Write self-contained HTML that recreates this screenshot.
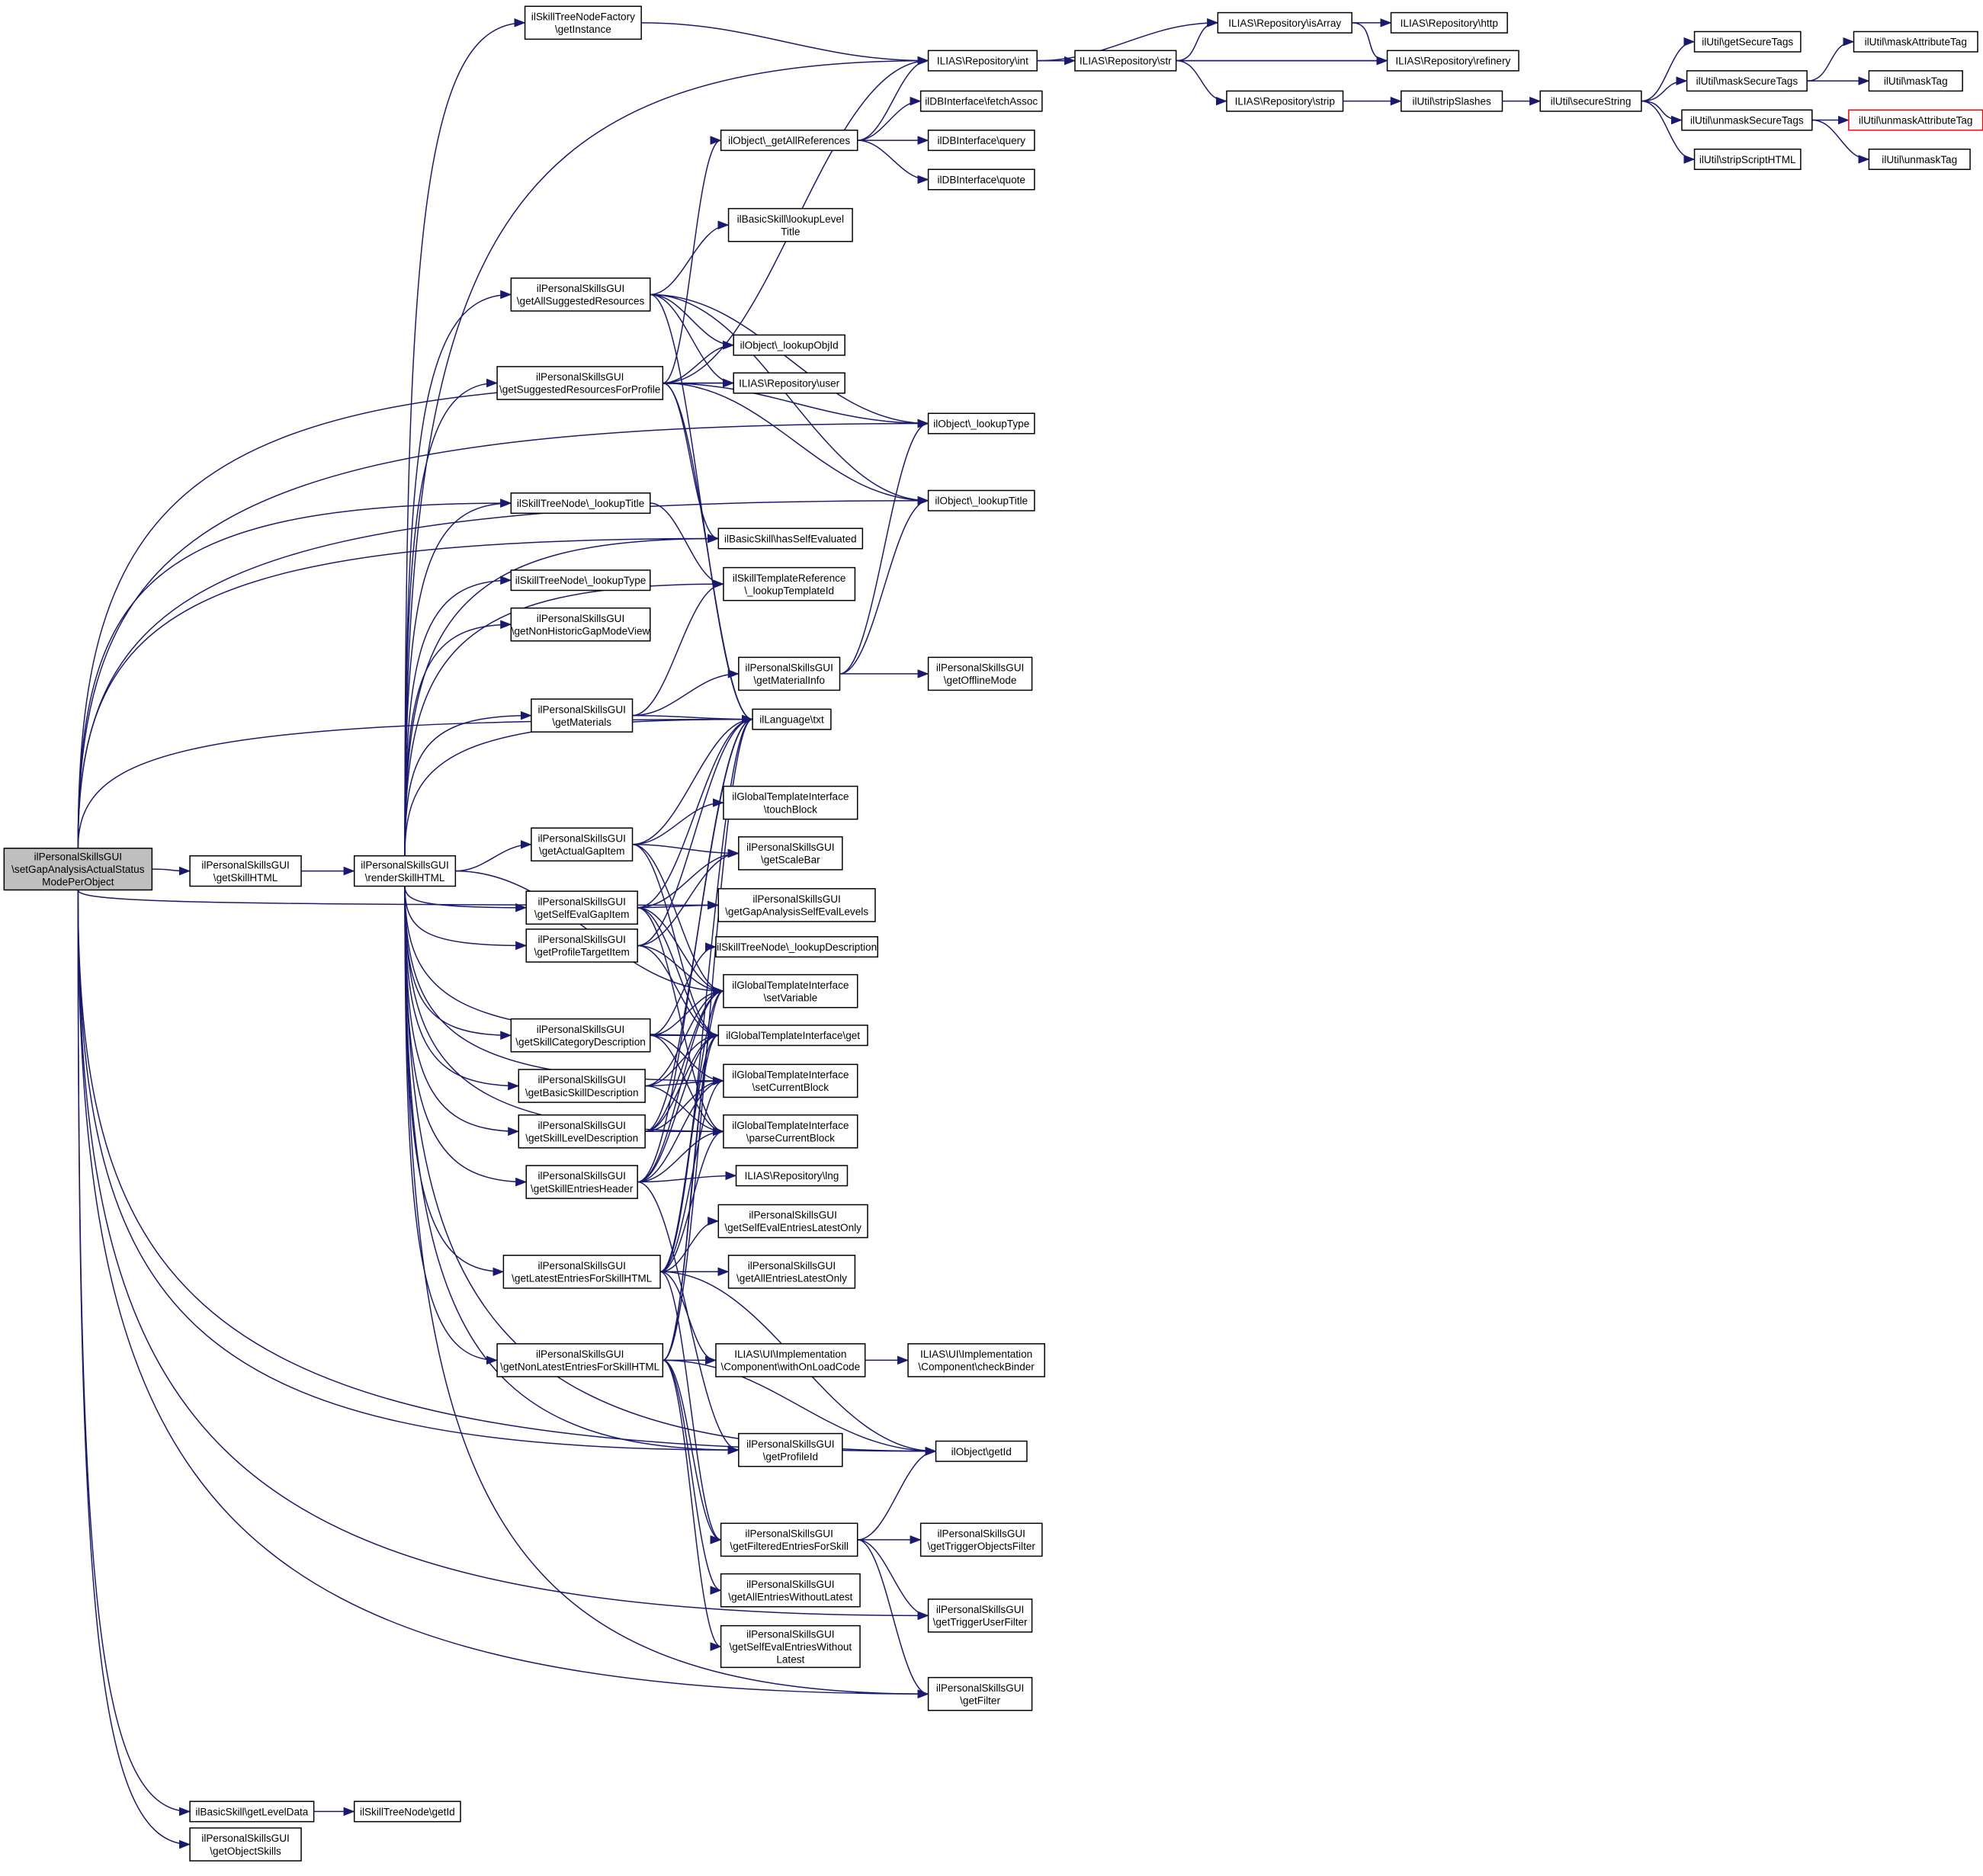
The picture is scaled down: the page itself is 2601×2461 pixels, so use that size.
<!DOCTYPE html>
<html><head><meta charset="utf-8">
<style>
html,body{margin:0;padding:0;background:#fff;}
svg{display:block;}
text{font-family:"Liberation Sans",Arial,sans-serif;font-size:8.2px;fill:#000;}
.n{fill:#fff;stroke:#000;stroke-width:0.9;}
.e{fill:none;stroke:#191970;stroke-width:0.9;}
</style></head><body>
<svg id="s" width="2601" height="2461" viewBox="0 0 1568 1484" xmlns="http://www.w3.org/2000/svg">
<defs><marker id="a" markerWidth="9" markerHeight="7" refX="8.5" refY="3.5" orient="auto" markerUnits="userSpaceOnUse"><path d="M0,0 L9,3.5 L0,7 z" fill="#191970"/></marker></defs>
<g id="edges"></g>
<g id="nodes"></g>
</svg>
<script>
var N={
main:[3,671,117,33,["ilPersonalSkillsGUI","\\setGapAnalysisActualStatus","ModePerObject"]],
gsh:[150,677,88,24,["ilPersonalSkillsGUI","\\getSkillHTML"]],
lvl:[150,1425,98,16,["ilBasicSkill\\getLevelData"]],
obs:[150,1446,88,26,["ilPersonalSkillsGUI","\\getObjectSkills"]],
rsh:[280,677,80,24,["ilPersonalSkillsGUI","\\renderSkillHTML"]],
tid:[280,1425,84,16,["ilSkillTreeNode\\getId"]],
gin:[415,5,92,26,["ilSkillTreeNodeFactory","\\getInstance"]],
asr:[404,220,110,26,["ilPersonalSkillsGUI","\\getAllSuggestedResources"]],
srp:[393,290,131,26,["ilPersonalSkillsGUI","\\getSuggestedResourcesForProfile"]],
tlt:[404,390,110,16,["ilSkillTreeNode\\_lookupTitle"]],
tly:[404,451,110,16,["ilSkillTreeNode\\_lookupType"]],
nhg:[404,481,110,26,["ilPersonalSkillsGUI","\\getNonHistoricGapModeView"]],
mat:[420,553,80,26,["ilPersonalSkillsGUI","\\getMaterials"]],
agi:[420,655,80,26,["ilPersonalSkillsGUI","\\getActualGapItem"]],
sgi:[416,705,88,26,["ilPersonalSkillsGUI","\\getSelfEvalGapItem"]],
pti:[416,735,88,26,["ilPersonalSkillsGUI","\\getProfileTargetItem"]],
scd:[404,806,110,26,["ilPersonalSkillsGUI","\\getSkillCategoryDescription"]],
bsd:[410,846,100,26,["ilPersonalSkillsGUI","\\getBasicSkillDescription"]],
sld:[410,882,100,26,["ilPersonalSkillsGUI","\\getSkillLevelDescription"]],
seh:[416,922,88,26,["ilPersonalSkillsGUI","\\getSkillEntriesHeader"]],
lat:[398,993,124,26,["ilPersonalSkillsGUI","\\getLatestEntriesForSkillHTML"]],
nla:[393,1063,131,26,["ilPersonalSkillsGUI","\\getNonLatestEntriesForSkillHTML"]],
gar:[570,103,108,16,["ilObject\\_getAllReferences"]],
llt:[576,165,98,26,["ilBasicSkill\\lookupLevel","Title"]],
loi:[580,265,88,16,["ilObject\\_lookupObjId"]],
usr:[580,295,88,16,["ILIAS\\Repository\\user"]],
hse:[568,418,114,16,["ilBasicSkill\\hasSelfEvaluated"]],
lti:[572,449,104,26,["ilSkillTemplateReference","\\_lookupTemplateId"]],
gmi:[584,520,80,26,["ilPersonalSkillsGUI","\\getMaterialInfo"]],
txt:[595,561,62,16,["ilLanguage\\txt"]],
tb:[572,622,106,26,["ilGlobalTemplateInterface","\\touchBlock"]],
gsb:[584,662,82,26,["ilPersonalSkillsGUI","\\getScaleBar"]],
gse:[568,703,124,26,["ilPersonalSkillsGUI","\\getGapAnalysisSelfEvalLevels"]],
ld:[566,741,128,16,["ilSkillTreeNode\\_lookupDescription"]],
sv:[572,771,106,26,["ilGlobalTemplateInterface","\\setVariable"]],
get:[568,811,118,16,["ilGlobalTemplateInterface\\get"]],
scb:[572,842,106,26,["ilGlobalTemplateInterface","\\setCurrentBlock"]],
pcb:[572,882,106,26,["ilGlobalTemplateInterface","\\parseCurrentBlock"]],
lng:[582,922,88,16,["ILIAS\\Repository\\lng"]],
sel:[568,953,118,26,["ilPersonalSkillsGUI","\\getSelfEvalEntriesLatestOnly"]],
ael:[576,993,100,26,["ilPersonalSkillsGUI","\\getAllEntriesLatestOnly"]],
wol:[566,1063,118,26,["ILIAS\\UI\\Implementation","\\Component\\withOnLoadCode"]],
gpi:[584,1134,82,26,["ilPersonalSkillsGUI","\\getProfileId"]],
fes:[570,1205,108,26,["ilPersonalSkillsGUI","\\getFilteredEntriesForSkill"]],
awl:[570,1245,110,26,["ilPersonalSkillsGUI","\\getAllEntriesWithoutLatest"]],
swl:[570,1286,110,33,["ilPersonalSkillsGUI","\\getSelfEvalEntriesWithout","Latest"]],
int:[734,40,86,16,["ILIAS\\Repository\\int"]],
fa:[728,72,96,16,["ilDBInterface\\fetchAssoc"]],
qry:[734,103,84,16,["ilDBInterface\\query"]],
quo:[734,134,84,16,["ilDBInterface\\quote"]],
oty:[734,327,84,16,["ilObject\\_lookupType"]],
oti:[734,388,84,16,["ilObject\\_lookupTitle"]],
gom:[734,520,82,26,["ilPersonalSkillsGUI","\\getOfflineMode"]],
chb:[718,1063,108,26,["ILIAS\\UI\\Implementation","\\Component\\checkBinder"]],
oid:[740,1140,72,16,["ilObject\\getId"]],
tof:[728,1205,96,26,["ilPersonalSkillsGUI","\\getTriggerObjectsFilter"]],
tuf:[734,1265,82,26,["ilPersonalSkillsGUI","\\getTriggerUserFilter"]],
gf:[734,1327,82,26,["ilPersonalSkillsGUI","\\getFilter"]],
str:[850,40,80,16,["ILIAS\\Repository\\str"]],
stp:[970,72,92,16,["ILIAS\\Repository\\strip"]],
isa:[963,10,106,16,["ILIAS\\Repository\\isArray"]],
htp:[1100,10,92,16,["ILIAS\\Repository\\http"]],
ref:[1097,40,104,16,["ILIAS\\Repository\\refinery"]],
ssl:[1108,72,80,16,["ilUtil\\stripSlashes"]],
sst:[1218,72,80,16,["ilUtil\\secureString"]],
gst:[1340,25,84,16,["ilUtil\\getSecureTags"]],
mst:[1334,56,95,16,["ilUtil\\maskSecureTags"]],
ust:[1330,87,103,16,["ilUtil\\unmaskSecureTags"]],
ssh:[1340,118,84,16,["ilUtil\\stripScriptHTML"]],
mat2:[1466,25,98,16,["ilUtil\\maskAttributeTag"]],
mtg:[1478,56,74,16,["ilUtil\\maskTag"]],
uat:[1462,87,106,16,["ilUtil\\unmaskAttributeTag"]],
utg:[1478,118,80,16,["ilUtil\\unmaskTag"]]
};
var E={
main:"oty usr hse oti tlt txt gsh gse gpi oid tuf gf lvl obs",
gsh:"rsh",lvl:"tid",
rsh:"gin int asr srp tlt tly nhg mat agi sgi pti scd bsd sld seh lat nla txt hse sv get scb pcb gpi gf oid lti",
gin:"int",int:"str isa ref",str:"isa ref stp",isa:"htp ref",stp:"ssl",ssl:"sst",
sst:"gst mst ust ssh",mst:"mat2 mtg",ust:"uat utg",
gar:"fa qry quo int",
asr:"llt loi oty oti txt usr",
srp:"gar int loi usr oty oti hse txt",
tlt:"lti",mat:"gmi txt lti",gmi:"oty oti gom",
agi:"txt tb gsb sv get",sgi:"txt gsb gse sv get pcb",pti:"txt gsb sv get",
scd:"ld sv get scb pcb",bsd:"sv get scb pcb",sld:"txt sv get scb pcb",
seh:"txt lng sv get scb pcb gpi",
lat:"txt sv get pcb scb sel ael wol oid fes",
nla:"txt sv get wol oid fes awl swl",
wol:"chb",fes:"oid tof tuf gf"
};
var ns="http://www.w3.org/2000/svg",G=document.getElementById("nodes"),EG=document.getElementById("edges");
for(var k in N){var n=N[k];var r=document.createElementNS(ns,"rect");
r.setAttribute("x",n[0]);r.setAttribute("y",n[1]);r.setAttribute("width",n[2]);r.setAttribute("height",n[3]);
r.setAttribute("class","n");if(k=="main")r.style.fill="#bfbfbf";if(k=="uat")r.style.stroke="#ff0000";G.appendChild(r);
var L=n[4],lh=10,y0=n[1]+n[3]/2-(L.length-1)*lh/2+3;
for(var i=0;i<L.length;i++){var t=document.createElementNS(ns,"text");t.setAttribute("x",n[0]+n[2]/2);t.setAttribute("y",y0+i*lh);t.setAttribute("text-anchor","middle");t.textContent=L[i];G.appendChild(t);}}
for(var s in E){var S=N[s];E[s].split(" ").forEach(function(d){var T=N[d];
var x2=T[0],y2=T[1]+T[3]/2,x1,y1,p;
var sx=S[0]+S[2],sy=S[1]+S[3]/2;
var dx=x2-sx,dy=y2-sy;
var vert=(s=="main"&&d!="gsh")||(s=="rsh"&&Math.abs(dy)>0.5*dx);
if(vert){
 x1=S[0]+S[2]*0.5+(s=="main"?0:0);y1=dy<0?S[1]:S[1]+S[3];
 var ddx=x2-x1,ddy=y2-y1;
 p="M"+x1+","+y1+" C"+x1+","+(y1+ddy*0.75)+" "+(x1+ddx*0.15)+","+y2+" "+x2+","+y2;
}else{
 x1=sx;y1=sy;var c=Math.max(20,(x2-x1)*0.4);
 p="M"+x1+","+y1+" C"+(x1+c)+","+y1+" "+(x2-c)+","+y2+" "+x2+","+y2;
}
var e=document.createElementNS(ns,"path");e.setAttribute("d",p);e.setAttribute("class","e");e.setAttribute("marker-end","url(#a)");EG.appendChild(e);});}
</script>
</body></html>
